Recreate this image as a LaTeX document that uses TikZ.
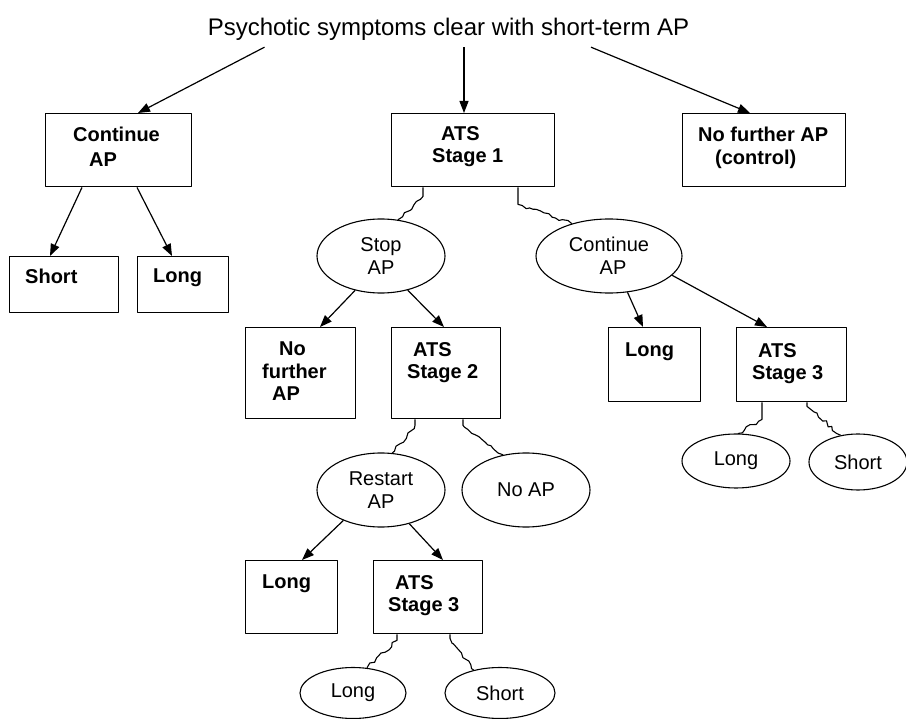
\documentclass[tikz,border=0pt]{standalone}
\usepackage{fontspec}
\setmainfont{Liberation Sans}
\usetikzlibrary{shapes.geometric,arrows.meta,decorations.pathmorphing}

\tikzset{
  box/.style={draw, line width=1.4pt, rectangle, anchor=north west, inner sep=0pt},
  boxtext/.style={anchor=north west, inner sep=0pt, align=left,
    font=\fontsize{20}{22.5}\selectfont\bfseries},
  oval/.style={draw, line width=1.1pt, ellipse, inner sep=0pt, align=center,
    font=\fontsize{20}{23}\selectfont},
  arrow/.style={line width=1.2pt, -{Triangle[length=12pt,width=9pt]}},
  wiggle/.style={decoration={random steps, segment length=4pt, amplitude=1.8pt}},
}

\begin{document}
\begin{tikzpicture}[x=1pt, y=-1pt, line join=round]
  \pgfmathsetseed{7}
  \useasboundingbox (0,0) rectangle (906,719);

  % top line
  \node[anchor=base, inner sep=0pt, font=\fontsize{24}{28}\selectfont] (title) at (448.5,36)
    {Psychotic symptoms clear with short-term AP};

  % first row
  \node[box, minimum width=146, minimum height=73] (contap) at (45,113) {};
  \node[boxtext] (contap-t) at (73,127) {Continue\\[2.5pt]\hspace{16pt}AP};
  \node[box, minimum width=163, minimum height=73] (ats1) at (391,113) {};
  \node[boxtext] (ats1-t) at (432,126) {\hspace{9pt}ATS\\Stage 1};
  \node[box, minimum width=163, minimum height=73] (control) at (682,113) {};
  \node[boxtext] (control-t) at (698,127) {No further AP\\\hspace{17pt}(control)};

  \draw[arrow] ([xshift=-184pt, yshift=-6pt]title.south) -- ([xshift=93pt]contap.north west);
  \draw[arrow] ([xshift=15.5pt, yshift=-6pt]title.south) -- ([xshift=73pt]ats1.north west);
  \draw[arrow] ([xshift=142.5pt, yshift=-6pt]title.south) -- ([xshift=68pt]control.north west);

  % continue AP branch
  \node[box, minimum width=109, minimum height=56] (shortL) at (9,256) {};
  \node[boxtext] (shortL-t) at (25,269) {Short};
  \node[box, minimum width=91, minimum height=56] (longL) at (137,256) {};
  \node[boxtext] (longL-t) at (153,269) {Long};
  \draw[arrow] ([xshift=37pt]contap.south west) -- ([xshift=41pt]shortL.north west);
  \draw[arrow] ([xshift=92pt]contap.south west) -- ([xshift=35pt]longL.north west);

  % ATS stage 1 branch
  \node[oval, minimum width=128, minimum height=74] (stopap) at (381,256) {Stop\\AP};
  \node[oval, minimum width=146, minimum height=74] (contapR) at (609,256) {Continue\\\hspace{8pt}AP};
  \draw[line width=1.1pt] ([xshift=32pt]ats1.south west) -- ++(0,9)
    decorate[wiggle] {-- (stopap.65)};
  \draw[line width=1.1pt] ([xshift=127pt]ats1.south west) -- ++(0,17)
    decorate[wiggle] {-- (contapR.139)};

  % stop AP
  \node[box, minimum width=110, minimum height=91] (nofurther) at (245,327) {};
  \node[boxtext] (nofurther-t) at (262,342) {\hspace{17pt}No\\further\\\hspace{10pt}AP};
  \node[box, minimum width=109, minimum height=91] (ats2) at (391,327) {};
  \node[boxtext] (ats2-t) at (407,342) {\hspace{6pt}ATS\\Stage 2};
  \draw[arrow] (stopap.233) -- ([xshift=75pt]nofurther.north west);
  \draw[arrow] (stopap.308) -- ([xshift=53pt]ats2.north west);

  % continue AP
  \node[box, minimum width=92, minimum height=74] (longR) at (608,327) {};
  \node[boxtext] (longR-t) at (625,343) {Long};
  \node[box, minimum width=110, minimum height=74] (ats3R) at (736,327) {};
  \node[boxtext] (ats3R-t) at (752,343) {\hspace{6pt}ATS\\Stage 3};
  \draw[arrow] (contapR.297) -- ([xshift=35pt]longR.north west);
  \draw[arrow] (contapR.343) -- ([xshift=31pt]ats3R.north west);

  \node[oval, minimum width=108, minimum height=54] (longE) at (736,461) {Long};
  \node[oval, minimum width=98, minimum height=56] (shortE) at (858,462) {Short};
  \draw[line width=1.1pt] ([xshift=26pt]ats3R.south west) -- ++(0,17)
    decorate[wiggle] {-- (longE.86)};
  \draw[line width=1.1pt] ([xshift=71pt]ats3R.south west) -- ++(0,4)
    decorate[wiggle] {-- (shortE.123)};

  % ATS stage 2 branch
  \node[oval, minimum width=128, minimum height=74] (restart) at (381,490) {Restart\\AP};
  \node[oval, minimum width=128, minimum height=74] (noap) at (526,490) {No AP};
  \draw[line width=1.1pt] ([xshift=24pt]ats2.south west) -- ++(0,6)
    decorate[wiggle] {-- (restart.73)};
  \draw[line width=1.1pt] ([xshift=72pt]ats2.south west) -- ++(0,6)
    decorate[wiggle] {-- (noap.123)};

  \node[box, minimum width=92, minimum height=73] (longB) at (245,560) {};
  \node[boxtext] (longB-t) at (262,575) {Long};
  \node[box, minimum width=109, minimum height=73] (ats3B) at (373,560) {};
  \node[boxtext] (ats3B-t) at (388,575) {\hspace{7pt}ATS\\Stage 3};
  \draw[arrow] (restart.219) -- ([xshift=57pt]longB.north west);
  \draw[arrow] (restart.310) -- ([xshift=70pt]ats3B.north west);

  \node[oval, minimum width=106, minimum height=51] (longE2) at (353,693) {Long};
  \node[oval, minimum width=110, minimum height=51] (shortE2) at (500,693) {Short};
  \draw[line width=1.1pt] ([xshift=24pt]ats3B.south west) -- ++(0,6)
    decorate[wiggle] {-- (longE2.61)};
  \draw[line width=1.1pt] ([xshift=77pt]ats3B.south west) -- ++(0,4)
    decorate[wiggle] {-- (shortE2.139)};
\end{tikzpicture}
\end{document}
